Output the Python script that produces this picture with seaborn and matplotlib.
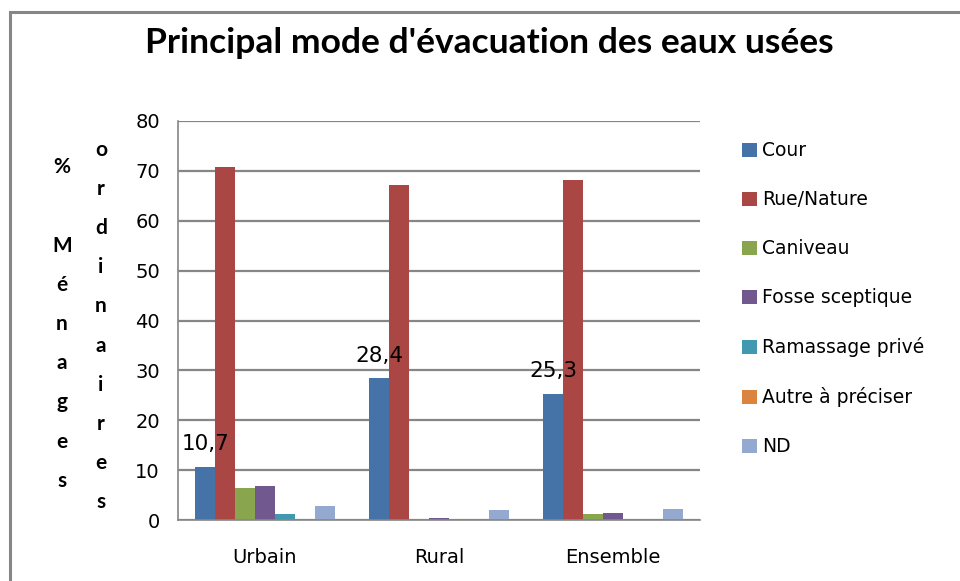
import numpy as np
import pandas as pd
import matplotlib
matplotlib.use("Agg")
import matplotlib.pyplot as plt
import seaborn as sns
from matplotlib.patches import Rectangle

# données
zones = ['Urbain', 'Rural', 'Ensemble']
modes = ['Cour', 'Rue/Nature', 'Caniveau', 'Fosse sceptique',
         'Ramassage privé', 'Autre à préciser', 'ND']
cour = [10.7, 28.4, 25.3]
rue_nature = [70.8, 67.2, 68.1]
caniveau = [6.4, 0.2, 1.2]
fosse = [6.8, 0.5, 1.4]
ramassage = [1.2, 0.0, 0.2]
autre = [0.0, 0.0, 0.0]
nd = [2.8, 2.0, 2.2]
couleurs = ['#4572A7', '#AA4643', '#89A54E', '#71588F',
            '#4198AF', '#DB843D', '#93A9CF']

series = [cour, rue_nature, caniveau, fosse, ramassage, autre, nd]
rows = []
for mode, vals in zip(modes, series):
    for zone, v in zip(zones, vals):
        rows.append({'zone': zone, 'mode': mode, 'val': v})
df = pd.DataFrame(rows)

sns.set_style('white')
plt.rcParams['font.family'] = ['DejaVu Sans']
plt.rcParams['text.color'] = 'black'
plt.rcParams['xtick.color'] = 'black'
plt.rcParams['ytick.color'] = 'black'

gris = '#868686'
fig = plt.figure(figsize=(9.6, 5.81), dpi=100)
ax = fig.add_axes([178 / 960, 1 - 520 / 581, 522 / 960, 399 / 581])

sns.barplot(data=df, x='zone', y='val', hue='mode', hue_order=modes,
            palette=couleurs, width=0.8, gap=0, saturation=1,
            edgecolor='none', linewidth=0, ax=ax)

ax.set_ylim(0, 80)
ax.set_xlim(-0.5, 2.5)
ax.set_yticks(range(0, 81, 10))
ax.yaxis.grid(True, color=gris, linewidth=1.6)
ax.set_axisbelow(True)
for s in ['top', 'right']:
    ax.spines[s].set_visible(False)
for s in ['left', 'bottom']:
    ax.spines[s].set_color(gris)
    ax.spines[s].set_linewidth(1.2)
ax.tick_params(axis='y', length=5, color=gris, width=1.2, labelsize=14,
               pad=8, labelcolor='black')
ax.tick_params(axis='x', which='major', length=0, labelsize=14, pad=20,
               labelcolor='black')
ax.set_xticks([-0.5, 0.5, 1.5, 2.5], minor=True)
ax.tick_params(axis='x', which='minor', length=6, color=gris, width=1.2)
ax.set_xlabel('')
ax.set_ylabel('')

# étiquettes de la série Cour
cont = ax.containers[0]
ax.bar_label(cont, labels=[f'{v:.1f}'.replace('.', ',') for v in cour],
             fontsize=15.5, padding=9, color='black')

leg = ax.legend(loc='center left', bbox_to_anchor=(1.08, 0.554), frameon=False,
                fontsize=13.5, handlelength=0.8, handleheight=0.8,
                handletextpad=0.3, labelspacing=1.6, borderaxespad=0,
                borderpad=0)
for t in leg.get_texts():
    t.set_color('black')

fig.text(0.51, 1 - 43 / 581, "Principal mode d'évacuation des eaux usées",
         ha='center', va='center', fontsize=25.5, fontweight='bold',
         family=['Lato', 'DejaVu Sans'], color='black')

col1 = '\n'.join(list('%') + [' '] + list('Ménages'))
col2 = '\n'.join(list('ordinaires'))
fig.text(62 / 960, 1 - 324 / 581, col1, ha='center', va='center',
         fontsize=15, fontweight='bold', linespacing=2.2,
         family=['Lato', 'DejaVu Sans'], color='black')
fig.text(101 / 960, 1 - 326 / 581, col2, ha='center', va='center',
         fontsize=15, fontweight='bold', linespacing=2.2,
         family=['Lato', 'DejaVu Sans'], color='black')

fig.patches.append(Rectangle((10 / 960, -0.1), 1.2, 1 - 12 / 581 + 0.1,
                             transform=fig.transFigure, fill=False,
                             edgecolor=gris, linewidth=2.2))

fig.savefig('out.png', dpi=100)
